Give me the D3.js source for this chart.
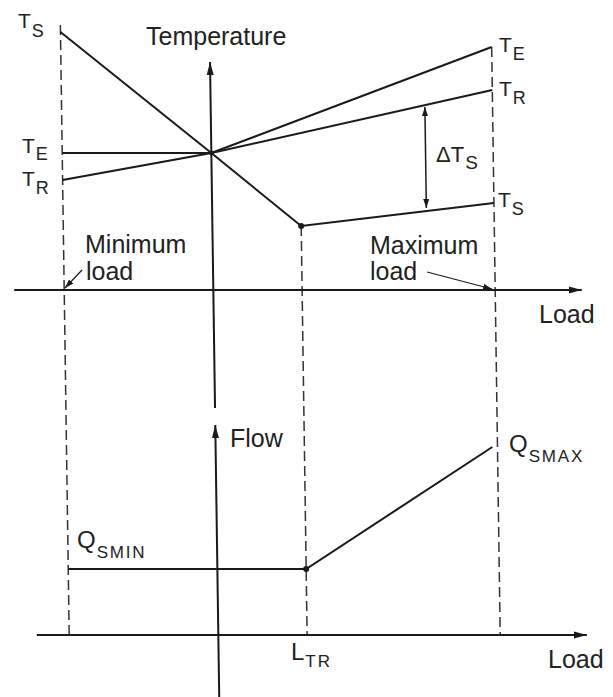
<!DOCTYPE html>
<html>
<head>
<meta charset="utf-8">
<script src="https://cdn.jsdelivr.net/npm/d3@7"></script>
<style>
  body { margin: 0; background: #fff; }
  svg { display: block; }
  text { font-family: "Liberation Sans", Arial, sans-serif; fill: #222; }
</style>
</head>
<body>
<div id="chart"></div>
<script>
// loads in % of maximum load; temperatures and flows in arbitrary units
const supplyLoads = [0, 34.6, 55.2, 100];
const supplyTemp = [103.2, 54.8, 25.6, 34.8];
const exhaustLoads = [0, 34.6, 100];
const exhaustTemp = [54.8, 54.8, 97.2];
const returnLoads = [0, 34.6, 100];
const returnTemp = [44, 54.8, 80];
const flowLoads = [0, 55.2, 98.8];
const flowValues = [26.4, 26.4, 75.2];
const guideLoads = [0, 55.2, 100];        // minimum load, L_TR, maximum load
const guideTopTemp = [106, 25.6, 97.2];
const deltaLoad = 84.3;
const deltaRange = [73.2, 32.8];
const axisLoad = 34.6;

function drawChart() {
    const width = 613, height = 697;

    const x = d3.scaleLinear().domain([0, 100]).range([60, 491]);
    const yT = d3.scaleLinear().domain([0, 100]).range([290, 40]);
    const yF = d3.scaleLinear().domain([0, 100]).range([635, 385]);

    const svg = d3.select("#chart").append("svg")
        .attr("width", width)
        .attr("height", height);

    const defs = svg.append("defs");
    defs.append("marker")
        .attr("id", "head")
        .attr("markerUnits", "userSpaceOnUse")
        .attr("markerWidth", 13).attr("markerHeight", 8)
        .attr("refX", 13).attr("refY", 4)
        .attr("orient", "auto")
        .append("path").attr("d", "M0,0.5L13,4L0,7.5Z").attr("fill", "#1a1a1a");
    defs.append("marker")
        .attr("id", "small")
        .attr("markerUnits", "userSpaceOnUse")
        .attr("markerWidth", 9).attr("markerHeight", 6)
        .attr("refX", 9).attr("refY", 3)
        .attr("orient", "auto-start-reverse")
        .append("path").attr("d", "M0,0L9,3L0,6Z").attr("fill", "#1a1a1a");

    // scanned page is slightly tilted
    const g = svg.append("g").attr("transform", "skewX(0.83)");

    const line = (xs, ys, yScale) => d3.line()(xs.map((l, i) => [x(l), yScale(ys[i])]));

    // dashed guides
    g.selectAll(".guide")
        .data(guideLoads)
        .enter().append("line")
        .attr("x1", d => x(d)).attr("x2", d => x(d))
        .attr("y1", (d, i) => yT(guideTopTemp[i]))
        .attr("y2", yF(0))
        .attr("stroke", "#333")
        .attr("stroke-width", 1.5)
        .attr("stroke-dasharray", "10,5");

    // axes
    const axes = [
        [[-11.6, 0], [120.1, 0], yT],
        [[-7.5, 0], [120.1, 0], yF]
    ];
    axes.forEach(([a, b, s]) => {
        g.append("line")
            .attr("x1", x(a[0])).attr("y1", s(a[1]))
            .attr("x2", x(b[0])).attr("y2", s(b[1]))
            .attr("stroke", "#1a1a1a").attr("stroke-width", 2)
            .attr("marker-end", "url(#head)");
    });
    g.append("line")
        .attr("x1", x(axisLoad)).attr("y1", yT(-47.2))
        .attr("x2", x(axisLoad)).attr("y2", yT(91.2))
        .attr("stroke", "#1a1a1a").attr("stroke-width", 2)
        .attr("marker-end", "url(#head)");
    g.append("line")
        .attr("x1", x(axisLoad)).attr("y1", yF(-24.8))
        .attr("x2", x(axisLoad)).attr("y2", yF(84))
        .attr("stroke", "#1a1a1a").attr("stroke-width", 2)
        .attr("marker-end", "url(#head)");

    // temperature and flow curves
    [[supplyLoads, supplyTemp, yT], [exhaustLoads, exhaustTemp, yT],
     [returnLoads, returnTemp, yT], [flowLoads, flowValues, yF]]
        .forEach(([xs, ys, s]) => {
            g.append("path")
                .attr("d", line(xs, ys, s))
                .attr("fill", "none")
                .attr("stroke", "#1a1a1a")
                .attr("stroke-width", 2);
        });

    // break points
    g.selectAll(".dot")
        .data([[supplyLoads[2], yT(supplyTemp[2]), 3], [flowLoads[1], yF(flowValues[1]), 3],
               [supplyLoads[1], yT(supplyTemp[1]), 2.2]])
        .enter().append("circle")
        .attr("cx", d => x(d[0])).attr("cy", d => d[1]).attr("r", d => d[2])
        .attr("fill", "#1a1a1a");

    // delta T arrow
    g.append("line")
        .attr("x1", x(deltaLoad)).attr("x2", x(deltaLoad))
        .attr("y1", yT(deltaRange[0])).attr("y2", yT(deltaRange[1]))
        .attr("stroke", "#1a1a1a").attr("stroke-width", 1.5)
        .attr("marker-start", "url(#small)")
        .attr("marker-end", "url(#small)");

    // min / max load pointers
    svg.append("line")
        .attr("x1", 82).attr("y1", 270).attr("x2", 65).attr("y2", 288)
        .attr("stroke", "#1a1a1a").attr("stroke-width", 1.2)
        .attr("marker-end", "url(#small)");
    svg.append("line")
        .attr("x1", 427).attr("y1", 272).attr("x2", 492).attr("y2", 289)
        .attr("stroke", "#1a1a1a").attr("stroke-width", 1.2)
        .attr("marker-end", "url(#small)");

    // plain labels
    const plain = [
        ["Temperature", 146, 45], ["Flow", 230, 447],
        ["Load", 539, 323], ["Load", 548, 668],
        ["Minimum", 85, 253], ["load", 86, 280],
        ["Maximum", 370, 254], ["load", 370, 280]
    ];
    plain.forEach(([t, px, py]) => {
        svg.append("text").attr("x", px).attr("y", py)
            .style("font-size", "25px").text(t);
    });

    // subscripted labels
    const subs = [
        ["T", "S", 18, 28, 21, 18, 9, 0],
        ["T", "E", 22, 153, 21, 18, 7, 0],
        ["T", "R", 22, 186, 21, 18, 8, 0],
        ["T", "E", 499, 52, 21, 18, 8, 0],
        ["T", "R", 499, 96, 21, 18, 8, 0],
        ["T", "S", 498, 207, 21, 18, 8, 0],
        ["\u0394T", "S", 436, 162, 22, 19, 7, 0],
        ["Q", "SMIN", 77, 548, 24, 17, 10, 1.8],
        ["Q", "SMAX", 509, 452, 24, 17, 10, 1.8],
        ["L", "TR", 291, 660, 24, 17, 7, 2]
    ];
    subs.forEach(([m, s, px, py, fm, fs, dy, ls]) => {
        const t = svg.append("text").attr("x", px).attr("y", py);
        t.append("tspan").style("font-size", fm + "px").text(m);
        t.append("tspan").attr("dy", dy).attr("dx", 1)
            .style("font-size", fs + "px").style("letter-spacing", ls + "px").text(s);
    });
}

drawChart();
</script>
</body>
</html>
